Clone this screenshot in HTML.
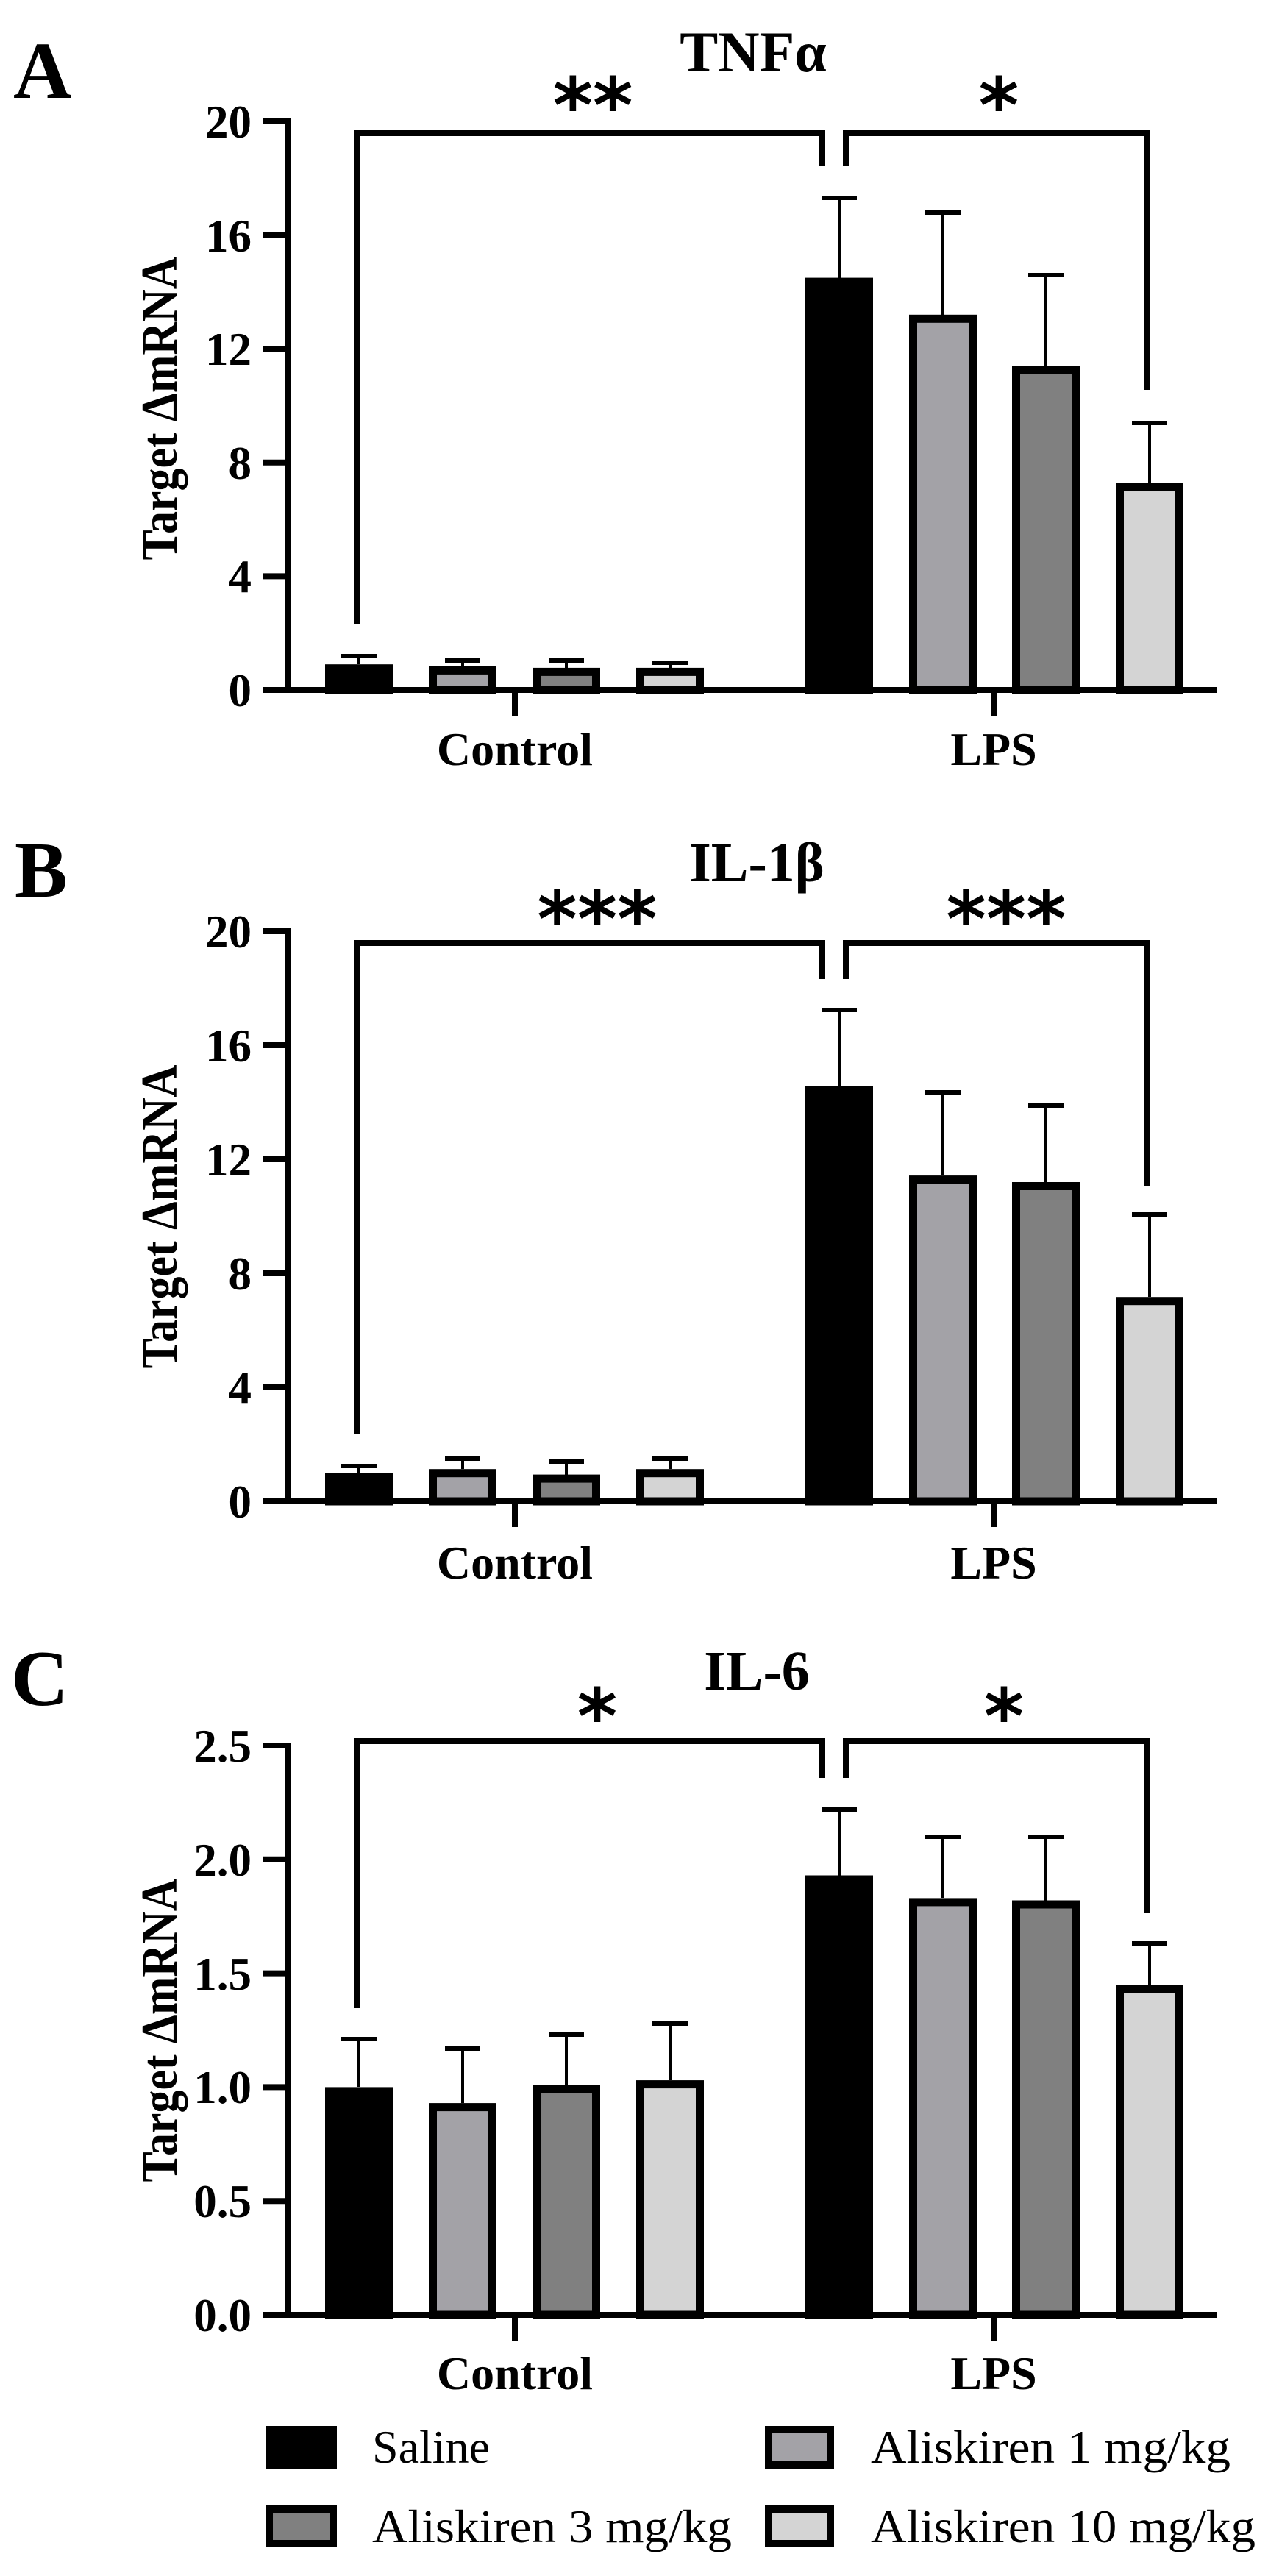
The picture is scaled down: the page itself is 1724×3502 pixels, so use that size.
<!DOCTYPE html>
<html><head><meta charset="utf-8"><style>html,body{margin:0;padding:0;background:#fff}svg{display:block}</style></head>
<body>
<svg width="1724" height="3502" viewBox="0 0 1724 3502" xmlns="http://www.w3.org/2000/svg">
<g font-family="Liberation Serif, serif" font-weight="bold" fill="#000">
<text x="18" y="133" font-size="110">A</text>
<text x="20" y="1219" font-size="108">B</text>
<text x="15" y="2318" font-size="108">C</text>
<text x="1024" y="97" font-size="78" text-anchor="middle">TNFα</text>
<text x="1029" y="1198" font-size="76" text-anchor="middle">IL-1β</text>
<text x="1029" y="2297" font-size="76" text-anchor="middle">IL-6</text>
</g>
<g font-family="DejaVu Sans, sans-serif" font-weight="bold" font-size="104" text-anchor="middle" fill="#000">
<text x="806" y="180">**</text>
<text x="1358" y="180">*</text>
<text x="812" y="1286">***</text>
<text x="1368" y="1286">***</text>
<text x="812" y="2370">*</text>
<text x="1365" y="2370">*</text>
</g>

<g stroke="#000" stroke-width="8" fill="none">
<path d="M485 848 V181 H1118 V225 M1150 225 V181 H1560 V530"/>
<path d="M485 1949 V1282 H1118 V1331 M1150 1331 V1282 H1560 V1612"/>
<path d="M485 2730 V2367 H1118 V2417 M1150 2417 V2367 H1560 V2600"/>
</g>

<g stroke="#000" stroke-width="8" fill="none">
<path d="M392 161 V938 M361 938 H1655 M357 165 H392 M357 319.6 H392 M357 474.2 H392 M357 628.8 H392 M357 783.4 H392 M357 938 H392 M700 938 V973 M1351 938 V973"/>
<path d="M392 1262 V2041 M361 2041 H1655 M357 1266 H392 M357 1421 H392 M357 1576 H392 M357 1731 H392 M357 1886 H392 M357 2041 H392 M700 2041 V2076 M1351 2041 V2076"/>
<path d="M392 2369 V3147 M361 3147 H1655 M357 2373 H392 M357 2527.8 H392 M357 2682.6 H392 M357 2837.4 H392 M357 2992.2 H392 M357 3147 H392 M700 3147 V3182 M1351 3147 V3182"/>
</g>

<g font-family="Liberation Serif, serif" font-weight="bold" font-size="63" text-anchor="end" fill="#000">
<text x="342" y="187">20</text><text x="342" y="342">16</text><text x="342" y="496">12</text><text x="342" y="651">8</text><text x="342" y="805">4</text><text x="342" y="960">0</text>
<text x="342" y="1288">20</text><text x="342" y="1443">16</text><text x="342" y="1598">12</text><text x="342" y="1753">8</text><text x="342" y="1908">4</text><text x="342" y="2063">0</text>
<text x="342" y="2395">2.5</text><text x="342" y="2550">2.0</text><text x="342" y="2705">1.5</text><text x="342" y="2859">1.0</text><text x="342" y="3014">0.5</text><text x="342" y="3169">0.0</text>
</g>
<g font-family="Liberation Serif, serif" font-weight="bold" text-anchor="middle" fill="#000">
<text transform="translate(240,555) rotate(-90)" font-size="70" textLength="413" lengthAdjust="spacingAndGlyphs">Target ΔmRNA</text>
<text transform="translate(240,1654) rotate(-90)" font-size="70" textLength="413" lengthAdjust="spacingAndGlyphs">Target ΔmRNA</text>
<text transform="translate(240,2760) rotate(-90)" font-size="70" textLength="413" lengthAdjust="spacingAndGlyphs">Target ΔmRNA</text>
<text x="700" y="1040" font-size="64">Control</text><text x="1351" y="1040" font-size="64">LPS</text>
<text x="700" y="2146" font-size="64">Control</text><text x="1351" y="2146" font-size="64">LPS</text>
<text x="700" y="3248" font-size="64">Control</text><text x="1351" y="3248" font-size="64">LPS</text>
</g>

<g stroke="#000" fill="none">
<g stroke-width="4">
<path d="M488 892 V903 M629 898 V906 M770 898 V908 M911 901 V908 M1141 269 V378 M1282 289 V428 M1422 374 V497 M1563 575 V657"/>
<path d="M488 1993 V2002 M629 1983 V1997 M770 1987 V2005 M911 1983 V1997 M1141 1373 V1476 M1282 1485 V1598 M1422 1503 V1607 M1563 1651 V1763"/>
<path d="M488 2772 V2837 M629 2785 V2859 M770 2766 V2834 M911 2751 V2828 M1141 2460 V2550 M1282 2497 V2580 M1422 2497 V2584 M1563 2642 V2698"/>
</g>
<g stroke-width="6">
<path d="M464 892 H512 M605 898 H653 M746 898 H794 M887 901 H935 M1117 269 H1165 M1258 289 H1306 M1398 374 H1446 M1539 575 H1587"/>
<path d="M464 1993 H512 M605 1983 H653 M746 1987 H794 M887 1983 H935 M1117 1373 H1165 M1258 1485 H1306 M1398 1503 H1446 M1539 1651 H1587"/>
<path d="M464 2772 H512 M605 2785 H653 M746 2766 H794 M887 2751 H935 M1117 2460 H1165 M1258 2497 H1306 M1398 2497 H1446 M1539 2642 H1587"/>
</g>
</g>

<g stroke="#000" stroke-width="11">
<rect x="447.5" y="908.7" width="81" height="29.3" fill="#000"/>
<rect x="588.5" y="911.4" width="81" height="26.6" fill="#a3a2a7"/>
<rect x="729.5" y="913.4" width="81" height="24.6" fill="#808080"/>
<rect x="870.5" y="913.4" width="81" height="24.6" fill="#d4d4d4"/>
<rect x="1100.5" y="383.1" width="81" height="554.9" fill="#000"/>
<rect x="1241.5" y="433.3" width="81" height="504.7" fill="#a3a2a7"/>
<rect x="1381.5" y="502.9" width="81" height="435.1" fill="#808080"/>
<rect x="1522.5" y="662.5" width="81" height="275.5" fill="#d4d4d4"/>
<rect x="447.5" y="2007.8" width="81" height="33.2" fill="#000"/>
<rect x="588.5" y="2002.7" width="81" height="38.3" fill="#a3a2a7"/>
<rect x="729.5" y="2010.1" width="81" height="30.9" fill="#808080"/>
<rect x="870.5" y="2002.7" width="81" height="38.3" fill="#d4d4d4"/>
<rect x="1100.5" y="1481.9" width="81" height="559.1" fill="#000"/>
<rect x="1241.5" y="1603.6" width="81" height="437.4" fill="#a3a2a7"/>
<rect x="1381.5" y="1612.5" width="81" height="428.5" fill="#808080"/>
<rect x="1522.5" y="1768.7" width="81" height="272.3" fill="#d4d4d4"/>
<rect x="447.5" y="2842.9" width="81" height="304.1" fill="#000"/>
<rect x="588.5" y="2864.6" width="81" height="282.4" fill="#a3a2a7"/>
<rect x="729.5" y="2839.8" width="81" height="307.2" fill="#808080"/>
<rect x="870.5" y="2833.6" width="81" height="313.4" fill="#d4d4d4"/>
<rect x="1100.5" y="2555" width="81" height="592" fill="#000"/>
<rect x="1241.5" y="2585.9" width="81" height="561.1" fill="#a3a2a7"/>
<rect x="1381.5" y="2589" width="81" height="558" fill="#808080"/>
<rect x="1522.5" y="2703.6" width="81" height="443.4" fill="#d4d4d4"/>
</g>

<g stroke="#000" stroke-width="10">
<rect x="366" y="3303" width="87" height="48" fill="#000"/>
<rect x="1045" y="3303" width="84" height="48" fill="#a3a2a7"/>
<rect x="366" y="3411" width="87" height="47" fill="#808080"/>
<rect x="1045" y="3411" width="84" height="47" fill="#d4d4d4"/>
</g>
<g font-family="Liberation Serif, serif" font-size="64" fill="#000">
<text x="506" y="3348">Saline</text>
<text x="1184" y="3348" textLength="489" lengthAdjust="spacingAndGlyphs">Aliskiren 1 mg/kg</text>
<text x="506" y="3456" textLength="489" lengthAdjust="spacingAndGlyphs">Aliskiren 3 mg/kg</text>
<text x="1184" y="3456" textLength="523" lengthAdjust="spacingAndGlyphs">Aliskiren 10 mg/kg</text>
</g>
</svg>
</body></html>
